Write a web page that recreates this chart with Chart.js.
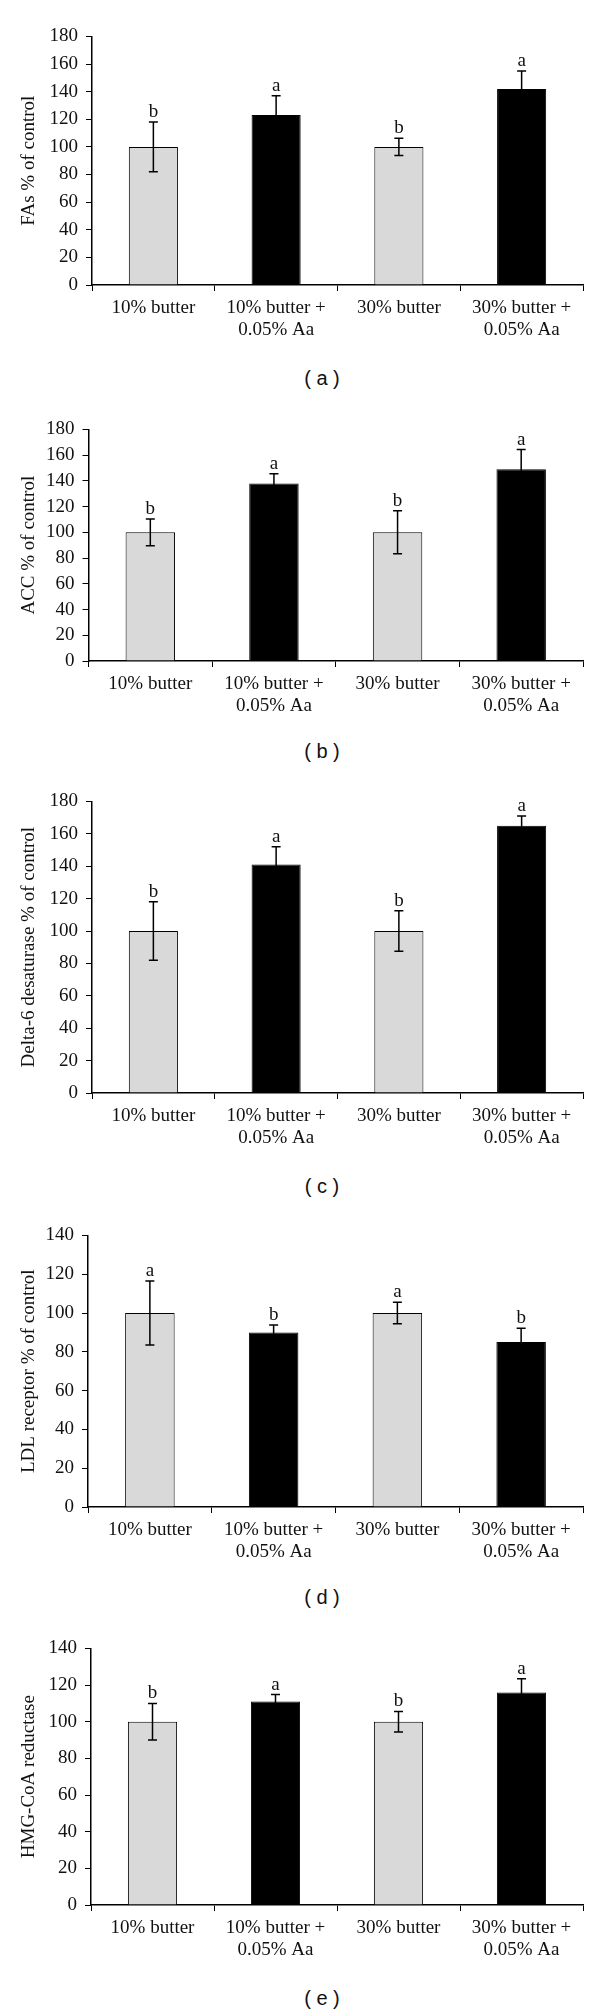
<!DOCTYPE html>
<html>
<head>
<meta charset="utf-8">
<script src="https://cdn.jsdelivr.net/npm/chart.js@4/dist/chart.umd.min.js"></script>
<style>
body { margin: 0; background: #fff; width: 600px; height: 2016px; position: relative; overflow: hidden; }
canvas { position: absolute; left: 0; }
.cap { position: absolute; left: 222px; width: 200px; height: 24px; line-height: 24px; text-align: center;
       font: 20px "Liberation Sans", Arial, sans-serif; color: #111; white-space: pre; }
</style>
</head>
<body>
<script>
// categories (same for every panel)
var categories = [['10% butter'], ['10% butter +', '0.05% Aa'], ['30% butter'], ['30% butter +', '0.05% Aa']];
var barColors = ['#d9d9d9', '#000000', '#d9d9d9', '#000000'];

// (a) FAs
var fasMean = [100, 123, 100, 142];
var fasErr = [18, 14, 6.3, 13];
var fasLetters = ['b', 'a', 'b', 'a'];
// (b) ACC
var accMean = [100, 138, 100, 149];
var accErr = [10.4, 7.6, 16.7, 15.3];
var accLetters = ['b', 'a', 'b', 'a'];
// (c) Delta-6 desaturase
var d6Mean = [100, 141, 100, 165];
var d6Err = [18, 11, 12.5, 6];
var d6Letters = ['b', 'a', 'b', 'a'];
// (d) LDL receptor
var ldlMean = [100, 90, 100, 85];
var ldlErr = [16.5, 3.8, 5.5, 7.2];
var ldlLetters = ['a', 'b', 'a', 'b'];
// (e) HMG-CoA reductase
var hmgMean = [100, 111, 100, 116];
var hmgErr = [10, 3.8, 5.6, 7.5];
var hmgLetters = ['b', 'a', 'b', 'a'];

var serif = '"Liberation Serif", "Times New Roman", serif';

/**
 * error bars + significance letters
 */
var errorBars = {
    id: 'errorBars',
    afterDatasetsDraw: function(chart) {
        var p = chart.options.plugins.errorBars;
        var ctx = chart.ctx;
        var y = chart.scales.y;
        var data = chart.data.datasets[0].data;
        ctx.save();
        ctx.strokeStyle = '#000';
        ctx.lineWidth = 1.5;
        ctx.fillStyle = '#111';
        ctx.font = '19px ' + serif;
        ctx.textAlign = 'center';
        ctx.textBaseline = 'alphabetic';
        chart.getDatasetMeta(0).data.forEach(function(bar, i) {
            var top = y.getPixelForValue(data[i] + p.err[i]);
            var bot = y.getPixelForValue(data[i] - p.err[i]);
            ctx.beginPath();
            ctx.moveTo(bar.x, top); ctx.lineTo(bar.x, bot);
            ctx.moveTo(bar.x - 4.5, top); ctx.lineTo(bar.x + 4.5, top);
            ctx.moveTo(bar.x - 4.5, bot); ctx.lineTo(bar.x + 4.5, bot);
            ctx.stroke();
            ctx.fillText(p.letters[i], bar.x, top - 5);
        });
        ctx.restore();
    }
};

var panels = [
    {title: 'FAs % of control', mean: fasMean, err: fasErr, letters: fasLetters, max: 180, top: 30.7, zero: 285, left: 92, cap: '( a )', capY: 379},
    {title: 'ACC % of control', mean: accMean, err: accErr, letters: accLetters, max: 180, top: 424, zero: 661, left: 88.5, cap: '( b )', capY: 752},
    {title: 'Delta-6 desaturase % of control', mean: d6Mean, err: d6Err, letters: d6Letters, max: 180, top: 796, zero: 1093, left: 92, cap: '( c )', capY: 1187},
    {title: 'LDL receptor % of control', mean: ldlMean, err: ldlErr, letters: ldlLetters, max: 140, top: 1230, zero: 1507, left: 88, cap: '( d )', capY: 1598},
    {title: 'HMG-CoA reductase', mean: hmgMean, err: hmgErr, letters: hmgLetters, max: 140, top: 1643, zero: 1905, left: 91, cap: '( e )', capY: 1999}
];

var PAD_TOP = 14, X_H = 60;

panels.forEach(function(p) {
    var cv = document.createElement('canvas');
    var h = Math.round(PAD_TOP + (p.zero - p.top) + X_H);
    cv.width = 600; cv.height = h;
    cv.style.top = Math.round(p.top - PAD_TOP) + 'px';
    document.body.appendChild(cv);

    var cap = document.createElement('div');
    cap.className = 'cap';
    cap.textContent = p.cap;
    cap.style.top = (p.capY - 12) + 'px';
    document.body.appendChild(cap);

    new Chart(cv, {
        type: 'bar',
        data: {
            labels: categories,
            datasets: [{
                data: p.mean,
                backgroundColor: barColors,
                borderColor: '#000',
                borderWidth: 1,
                barPercentage: 0.4,
                categoryPercentage: 1
            }]
        },
        options: {
            responsive: false,
            animation: false,
            devicePixelRatio: 1,
            layout: {padding: {top: PAD_TOP, right: 17, bottom: 0, left: 0}},
            plugins: {
                legend: {display: false},
                tooltip: {enabled: false},
                errorBars: {err: p.err, letters: p.letters}
            },
            scales: {
                x: {
                    grid: {offset: true, drawOnChartArea: false, drawTicks: true, tickLength: 6, color: '#000', lineWidth: 1},
                    border: {color: '#000', width: 1.5},
                    ticks: {color: '#111', font: {family: serif, size: 19, lineHeight: 1.15}, padding: 6, maxRotation: 0, autoSkip: false},
                    afterFit: function(s) { s.height = X_H; }
                },
                y: {
                    min: 0, max: p.max,
                    ticks: {stepSize: 20, autoSkip: false, color: '#111', font: {family: serif, size: 19}, padding: 8},
                    grid: {drawOnChartArea: false, drawTicks: true, tickLength: 6, color: '#000', lineWidth: 1},
                    border: {color: '#000', width: 1.5},
                    title: {display: true, text: p.title, color: '#111', font: {family: serif, size: 19}, padding: {top: 18, bottom: 0}},
                    afterFit: function(s) { s.width = p.left; }
                }
            }
        },
        plugins: [errorBars]
    });
});
</script>
</body>
</html>
